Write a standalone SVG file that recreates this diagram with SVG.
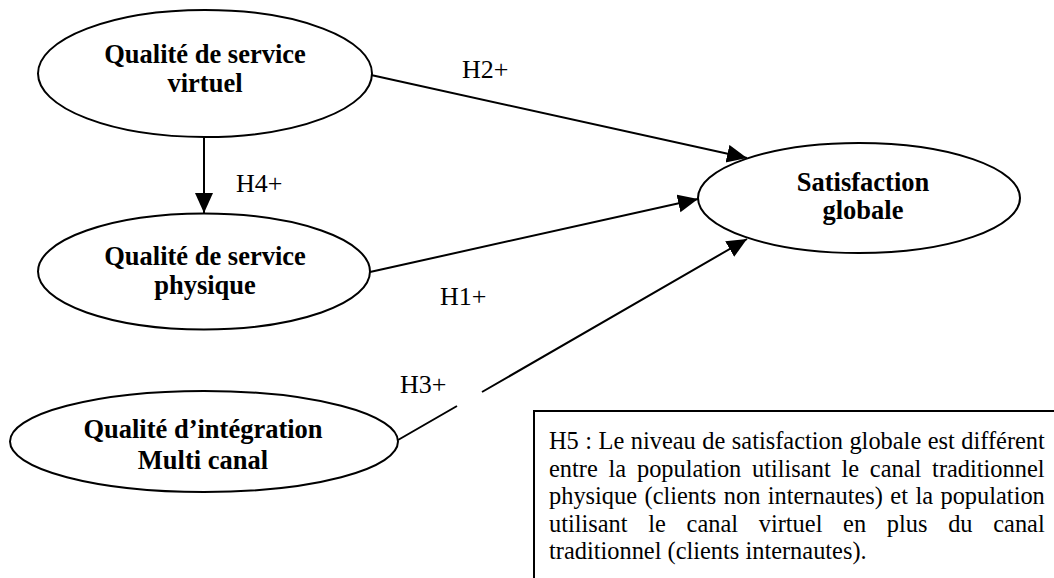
<svg xmlns="http://www.w3.org/2000/svg" width="1054" height="578" viewBox="0 0 1054 578">
<style>
.node ellipse{fill:#fff;stroke:#000;stroke-width:2}
.nt{font-family:"Liberation Serif","Times New Roman",serif;font-weight:bold;font-size:26.5px;fill:#000;text-anchor:middle}
.lbl{font-family:"Liberation Serif","Times New Roman",serif;font-size:26px;fill:#000}
.edge{fill:none;stroke:#000;stroke-width:2}
.bt{font-family:"Liberation Serif","Times New Roman",serif;font-size:24.4px;fill:#000}
</style>
<defs>
<marker id="arr" markerUnits="userSpaceOnUse" markerWidth="22" markerHeight="20" refX="20" refY="9" orient="auto">
<path d="M0,0 L20,9 L0,18 z" fill="#000"/>
</marker>
</defs>
<rect width="1054" height="578" fill="#fff"/>
<g id="connectors">
<line class="edge" x1="371" y1="75" x2="747" y2="158" marker-end="url(#arr)"/>
<line class="edge" x1="204" y1="137" x2="204" y2="213" marker-end="url(#arr)"/>
<line class="edge" x1="370" y1="272" x2="698" y2="199" marker-end="url(#arr)"/>
<path class="edge" d="M398,440 L457,406 M482,392 L747,239" marker-end="url(#arr)"/>
<text class="lbl" x="462" y="78">H2+</text>
<text class="lbl" x="236" y="192">H4+</text>
<text class="lbl" x="440" y="305">H1+</text>
<text class="lbl" x="400" y="393">H3+</text>
</g>
<g id="node-virtuel" class="node">
<ellipse cx="205" cy="73.5" rx="167" ry="63.5"/>
<text class="nt" x="205" y="63">Qualité de service</text>
<text class="nt" x="205" y="92">virtuel</text>
</g>
<g id="node-physique" class="node">
<ellipse cx="204" cy="271.5" rx="166" ry="58"/>
<text class="nt" x="205" y="265">Qualité de service</text>
<text class="nt" x="205" y="294">physique</text>
</g>
<g id="node-integration" class="node">
<ellipse cx="204" cy="441.5" rx="194" ry="50.5"/>
<text class="nt" x="203" y="438">Qualité d’intégration</text>
<text class="nt" x="203" y="469">Multi canal</text>
</g>
<g id="node-satisfaction" class="node">
<ellipse cx="859" cy="198" rx="161" ry="55"/>
<text class="nt" x="863" y="191">Satisfaction</text>
<text class="nt" x="863" y="219">globale</text>
</g>
<g id="note-h5">
<rect x="534" y="411" width="540" height="190" fill="#fff" stroke="#000" stroke-width="2"/>
<text class="bt" x="549" y="449" style="word-spacing:0.4px">H5 : Le niveau de satisfaction globale est différent</text>
<text class="bt" x="549" y="476.5" style="word-spacing:4.7px">entre la population utilisant le canal traditionnel</text>
<text class="bt" x="549" y="504" style="word-spacing:1.35px">physique (clients non internautes) et la population</text>
<text class="bt" x="549" y="531.5" style="word-spacing:14.6px">utilisant le canal virtuel en plus du canal</text>
<text class="bt" x="549" y="559">traditionnel (clients internautes).</text>
</g>
</svg>
